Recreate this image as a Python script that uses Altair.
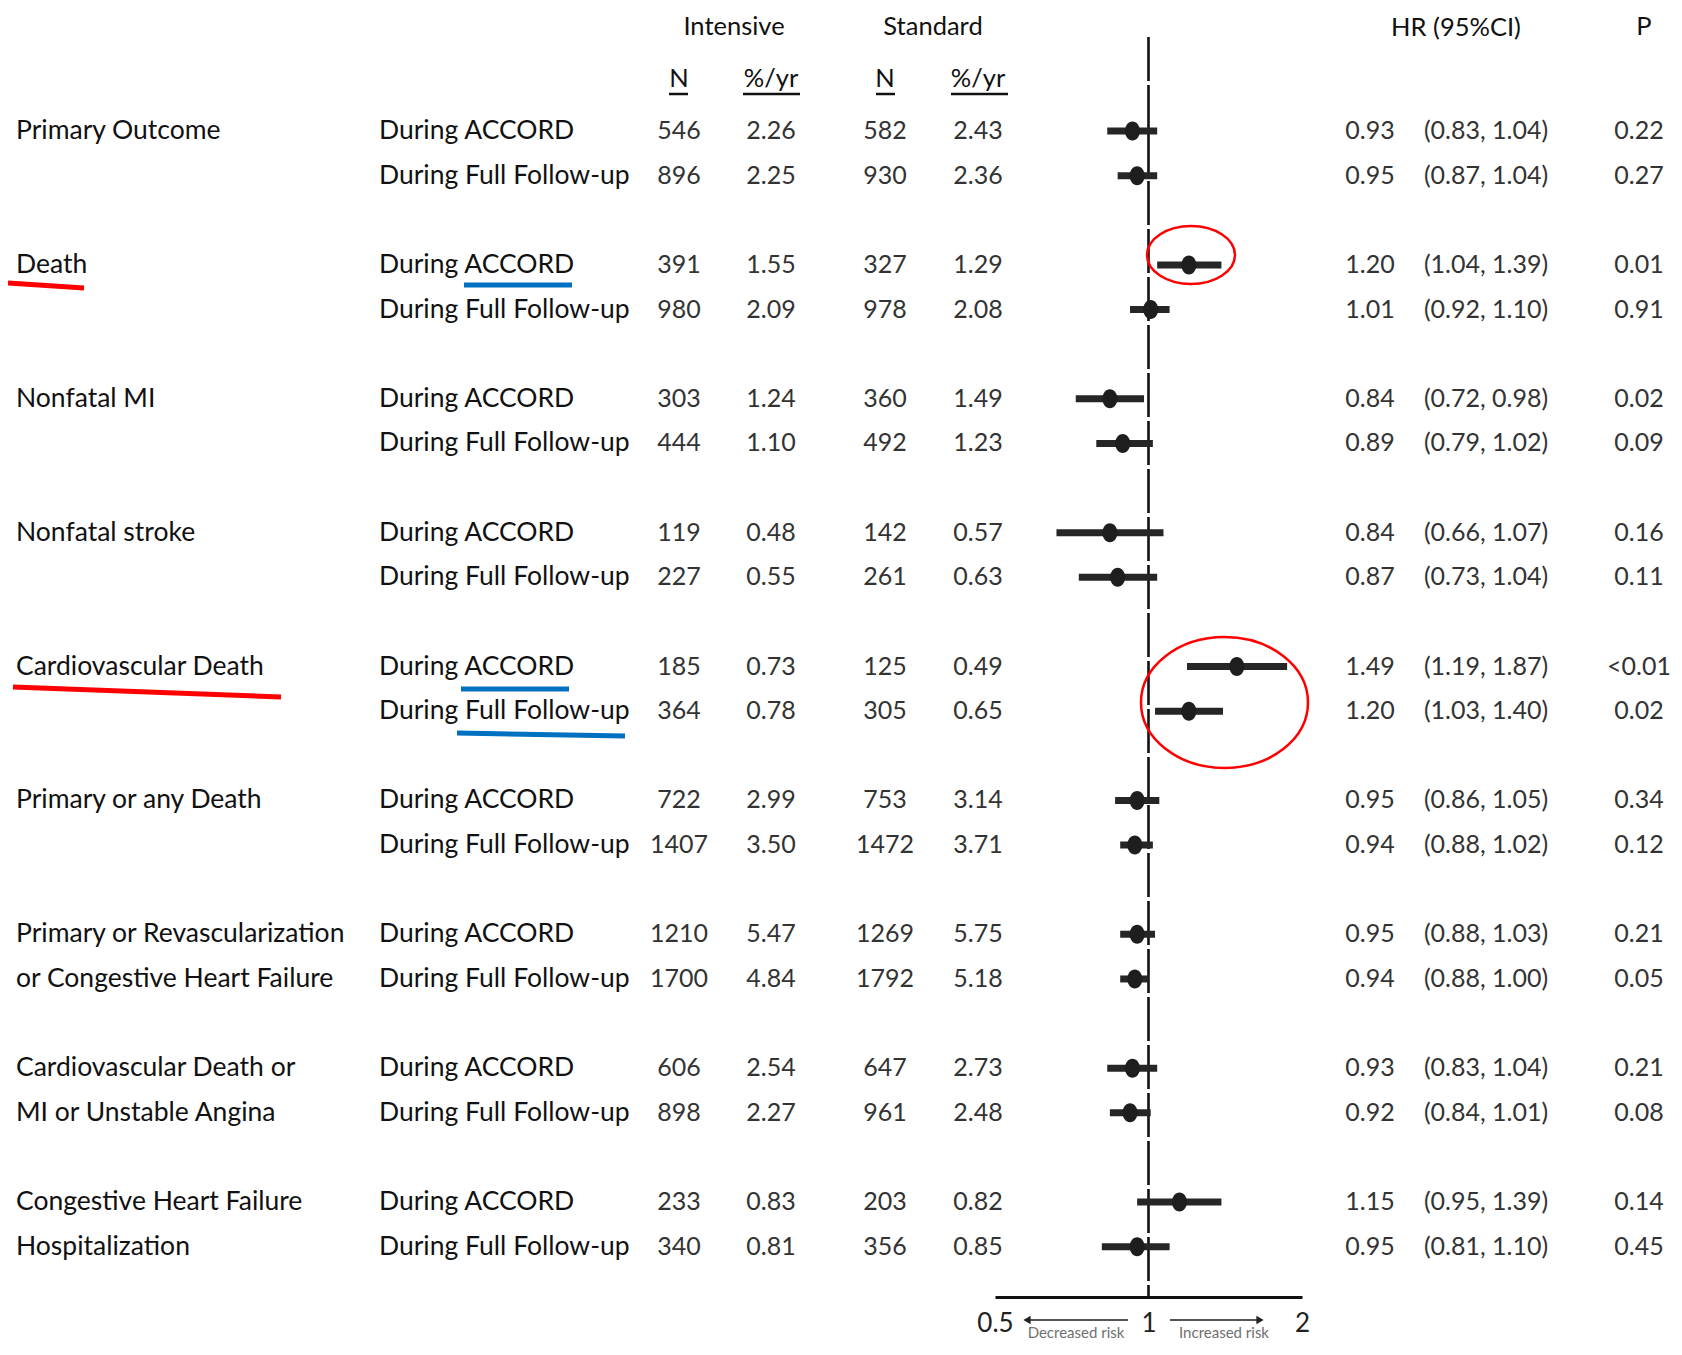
import altair as alt
import pandas as pd

# ---------------- data ----------------
outcome_line1 = ["Primary Outcome", "Death", "Nonfatal MI", "Nonfatal stroke",
                 "Cardiovascular Death", "Primary or any Death",
                 "Primary or Revascularization", "Cardiovascular Death or",
                 "Congestive Heart Failure"]
outcome_line2 = ["", "", "", "", "", "",
                 "or Congestive Heart Failure", "MI or Unstable Angina",
                 "Hospitalization"]
periods = ["During ACCORD", "During Full Follow-up"]

int_n = [546, 896, 391, 980, 303, 444, 119, 227, 185, 364, 722, 1407, 1210, 1700, 606, 898, 233, 340]
int_rate = [2.26, 2.25, 1.55, 2.09, 1.24, 1.10, 0.48, 0.55, 0.73, 0.78, 2.99, 3.50, 5.47, 4.84, 2.54, 2.27, 0.83, 0.81]
std_n = [582, 930, 327, 978, 360, 492, 142, 261, 125, 305, 753, 1472, 1269, 1792, 647, 961, 203, 356]
std_rate = [2.43, 2.36, 1.29, 2.08, 1.49, 1.23, 0.57, 0.63, 0.49, 0.65, 3.14, 3.71, 5.75, 5.18, 2.73, 2.48, 0.82, 0.85]
hr = [0.93, 0.95, 1.20, 1.01, 0.84, 0.89, 0.84, 0.87, 1.49, 1.20, 0.95, 0.94, 0.95, 0.94, 0.93, 0.92, 1.15, 0.95]
ci_lo = [0.83, 0.87, 1.04, 0.92, 0.72, 0.79, 0.66, 0.73, 1.19, 1.03, 0.86, 0.88, 0.88, 0.88, 0.83, 0.84, 0.95, 0.81]
ci_hi = [1.04, 1.04, 1.39, 1.10, 0.98, 1.02, 1.07, 1.04, 1.87, 1.40, 1.05, 1.02, 1.03, 1.00, 1.04, 1.01, 1.39, 1.10]
p_vals = ["0.22", "0.27", "0.01", "0.91", "0.02", "0.09", "0.16", "0.11", "<0.01", "0.02",
          "0.34", "0.12", "0.21", "0.05", "0.21", "0.08", "0.14", "0.45"]
axis_ticks = [0.5, 1, 2]

rows = []
for i in range(len(hr)):
    g, s = i // 2, i % 2
    rows.append({
        "pos": g * 3 + s,
        "outcome": outcome_line1[g] if s == 0 else outcome_line2[g],
        "period": periods[s],
        "int_n": int_n[i], "int_rate": int_rate[i],
        "std_n": std_n[i], "std_rate": std_rate[i],
        "hr": hr[i], "lo": ci_lo[i], "hi": ci_hi[i],
        "ci": "({:.2f}, {:.2f})".format(ci_lo[i], ci_hi[i]),
        "p": p_vals[i],
    })
df = pd.DataFrame(rows)
one = pd.DataFrame({"a": [0]})

FONT = "Lato"
LABEL_C = "#111111"
NUM_C = "#333333"

yscale = alt.Scale(domain=[0, 25], range=[123, 1238.75], nice=False, zero=False)
xscale = alt.Scale(type="log", domain=[0.5, 2], range=[987, 1294], nice=False)
Y = alt.Y("pos:Q", scale=yscale, axis=None)

layers = []


def col_text(field, xpx, align="center", color=NUM_C, size=25, fmt=None):
    enc = alt.Text(field, format=fmt) if fmt else alt.Text(field)
    return alt.Chart(df).mark_text(align=align, baseline="middle", font=FONT,
                                   fontSize=size, color=color).encode(
        x=alt.value(xpx), y=Y, text=enc)


layers.append(col_text("outcome:N", 8, align="left", color=LABEL_C, size=26.5))
layers.append(col_text("period:N", 371, align="left", color=LABEL_C, size=26.5))
layers.append(col_text("int_n:Q", 671, fmt="d"))
layers.append(col_text("int_rate:Q", 763, fmt=".2f"))
layers.append(col_text("std_n:Q", 877, fmt="d"))
layers.append(col_text("std_rate:Q", 970, fmt=".2f"))
layers.append(col_text("hr:Q", 1362, fmt=".2f"))
layers.append(col_text("ci:N", 1478))
layers.append(col_text("p:N", 1631))


def head(txt, xpx, ypx, size=25.5, color=LABEL_C):
    return alt.Chart(one).mark_text(align="center", baseline="middle", font=FONT,
                                    fontSize=size, color=color).encode(
        x=alt.value(xpx), y=alt.value(ypx), text=alt.value(txt))


for txt, xpx, ypx in [("Intensive", 726, 19), ("Standard", 925, 19),
                      ("HR (95%CI)", 1448, 20), ("P", 1636, 19),
                      ("N", 671, 71), ("%/yr", 763, 71), ("N", 877, 71), ("%/yr", 970, 71)]:
    layers.append(head(txt, xpx, ypx))


def rule(x1, x2, y1, y2, color, width):
    return alt.Chart(one).mark_rule(color=color, strokeWidth=width, strokeCap="butt").encode(
        x=alt.value(x1), x2=alt.value(x2), y=alt.value(y1), y2=alt.value(y2))


# header underlines
for x1, x2 in [(661, 680), (735, 792), (868, 887), (943, 1000)]:
    layers.append(rule(x1, x2, 86, 86, "#111111", 2.5))

# reference line at HR = 1
layers.append(alt.Chart(one).mark_rule(color="#111111", strokeWidth=2.6,
                                       strokeDash=[44, 4]).encode(
    x=alt.datum(1, scale=xscale), y=alt.value(29), y2=alt.value(1289)))

# confidence intervals and estimates
layers.append(alt.Chart(df).mark_rule(color="#262626", strokeWidth=7, strokeCap="butt").encode(
    x=alt.X("lo:Q", scale=xscale,
            axis=alt.Axis(title=None, values=axis_ticks, ticks=False, grid=False,
                          domainColor="#111111", domainWidth=3,
                          labelFont=FONT, labelFontSize=26, labelColor="#222222",
                          labelPadding=13, labelFlush=False, labelOverlap=False,
                          labelExpr="datum.value + ''")),
    x2="hi:Q", y=Y))
dot_shape = "M -0.79 0 A 0.79 1 0 1 0 0.79 0 A 0.79 1 0 1 0 -0.79 0"
layers.append(alt.Chart(df).mark_point(shape=dot_shape, filled=True, size=361,
                                       color="#1e1e1e", opacity=1).encode(
    x=alt.X("hr:Q", scale=xscale), y=Y))

# arrows and risk labels under axis
layers.append(rule(1018, 1120, 1312, 1312, "#555555", 2))
layers.append(rule(1162, 1252, 1312, 1312, "#555555", 2))
layers.append(alt.Chart(one).mark_point(shape="triangle-left", filled=True, size=70,
                                        color="#222222", opacity=1).encode(
    x=alt.value(1019), y=alt.value(1312)))
layers.append(alt.Chart(one).mark_point(shape="triangle-right", filled=True, size=70,
                                        color="#222222", opacity=1).encode(
    x=alt.value(1252), y=alt.value(1312)))
layers.append(head("Decreased risk", 1068, 1325, size=15, color="#707070"))
layers.append(head("Increased risk", 1216, 1325, size=15, color="#707070"))

# hand-drawn highlight annotations
layers.append(rule(0, 76, 275, 280, "#ff0000", 5))
layers.append(rule(5, 273, 679, 689, "#ff0000", 5))
layers.append(rule(456, 564, 277, 277, "#0070c0", 5))
layers.append(rule(453, 561, 681, 681, "#0070c0", 5))
layers.append(rule(449, 617, 725, 728, "#0070c0", 5))


def ellipse(cx, cy, rx, ry):
    k = ry / rx
    path = "M -1 0 A 1 {k:.3f} 0 1 0 1 0 A 1 {k:.3f} 0 1 0 -1 0".format(k=k)
    return alt.Chart(one).mark_point(shape=path, filled=False, size=(2 * rx) ** 2,
                                     color="#ff0000", strokeWidth=2.5, opacity=1).encode(
        x=alt.value(cx), y=alt.value(cy))


layers.append(ellipse(1183, 247, 44, 29))
layers.append(ellipse(1216.5, 694.5, 83.5, 65.5))

chart = alt.layer(*layers).properties(
    width=1666, height=1289,
    padding={"left": 0, "top": 0, "right": 0, "bottom": 46},
    autosize=alt.AutoSizeParams(type="none"),
).configure_view(stroke=None)

chart.save("out.html", embed_options={"renderer": "svg", "actions": False})
